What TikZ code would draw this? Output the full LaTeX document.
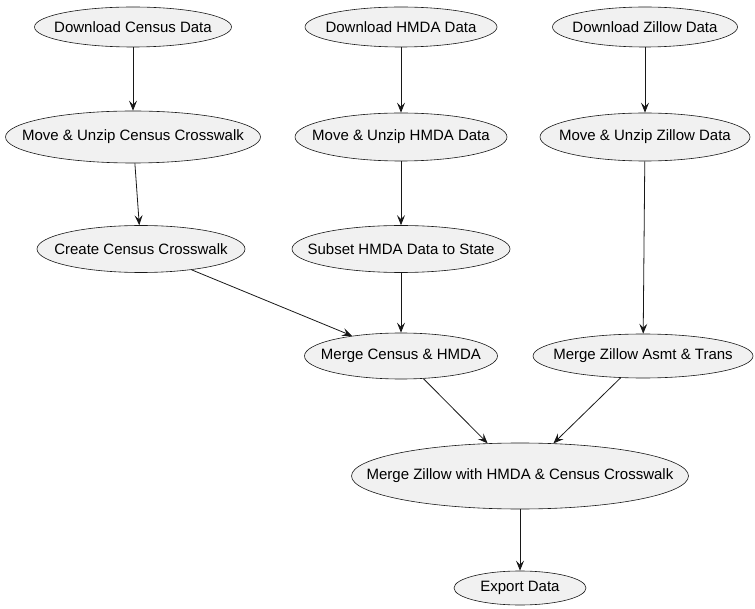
\documentclass[tikz,border=0pt]{standalone}
\usepackage{fontspec}
\setmainfont{Liberation Sans}
\usetikzlibrary{shapes.geometric, arrows.meta}
\definecolor{ufill}{HTML}{F1F1F1}
\definecolor{uline}{HTML}{181818}
\newcommand{\steptext}[1]{\makebox[0pt]{#1}}
\begin{document}
\begin{tikzpicture}[
        stepnode/.style={ellipse, draw=uline, fill=ufill, line width=0.6pt, inner sep=0pt, font=\fontsize{15}{18}\selectfont},
        arrow/.style = {->,>={Stealth[length=10pt,width=8pt,inset=4pt]}, draw=uline, line width=0.8pt},
        x=1pt,y=-1pt,
    ]
    \useasboundingbox (0,0) rectangle (755,609);
    \node[stepnode, minimum width=197, minimum height=40] (0) at (133,27) {\steptext{Download Census Data}};
    \node[stepnode, minimum width=192, minimum height=40] (1) at (401,27) {\steptext{Download HMDA Data}};
    \node[stepnode, minimum width=185, minimum height=40] (2) at (645,27) {\steptext{Download Zillow Data}};
    \node[stepnode, minimum width=255, minimum height=52] (3) at (133,137) {\steptext{Move \& Unzip Census Crosswalk}};
    \node[stepnode, minimum width=212, minimum height=48] (4) at (401,137) {\steptext{Move \& Unzip HMDA Data}};
    \node[stepnode, minimum width=210, minimum height=48] (5) at (645,137) {\steptext{Move \& Unzip Zillow Data}};
    \node[stepnode, minimum width=208, minimum height=47] (6) at (141,249) {\steptext{Create Census Crosswalk}};
    \node[stepnode, minimum width=218, minimum height=47] (7) at (401,249) {\steptext{Subset HMDA Data to State}};
    \node[stepnode, minimum width=193, minimum height=46] (8) at (401,356) {\steptext{Merge Census \& HMDA}};
    \node[stepnode, minimum width=220, minimum height=44] (9) at (643,356) {\steptext{Merge Zillow Asmt \& Trans}};
    \node[stepnode, minimum width=337, minimum height=66] (10) at (520,476) {\steptext{Merge Zillow with HMDA \& Census Crosswalk}};
    \node[stepnode, minimum width=132, minimum height=34] (11) at (520,588) {\steptext{Export Data}};
    \draw [arrow] (0) -- (3);
    \draw [arrow] (1) -- (4);
    \draw [arrow] (2) -- (5);
    \draw [arrow] (3) -- (6);
    \draw [arrow] (4) -- (7);
    \draw [arrow] (5) -- (9);
    \draw [arrow] (6) -- (8);
    \draw [arrow] (7) -- (8);
    \draw [arrow] (8) -- (10);
    \draw [arrow] (9) -- (10);
    \draw [arrow] (10) -- (11);
\end{tikzpicture}
\end{document}
